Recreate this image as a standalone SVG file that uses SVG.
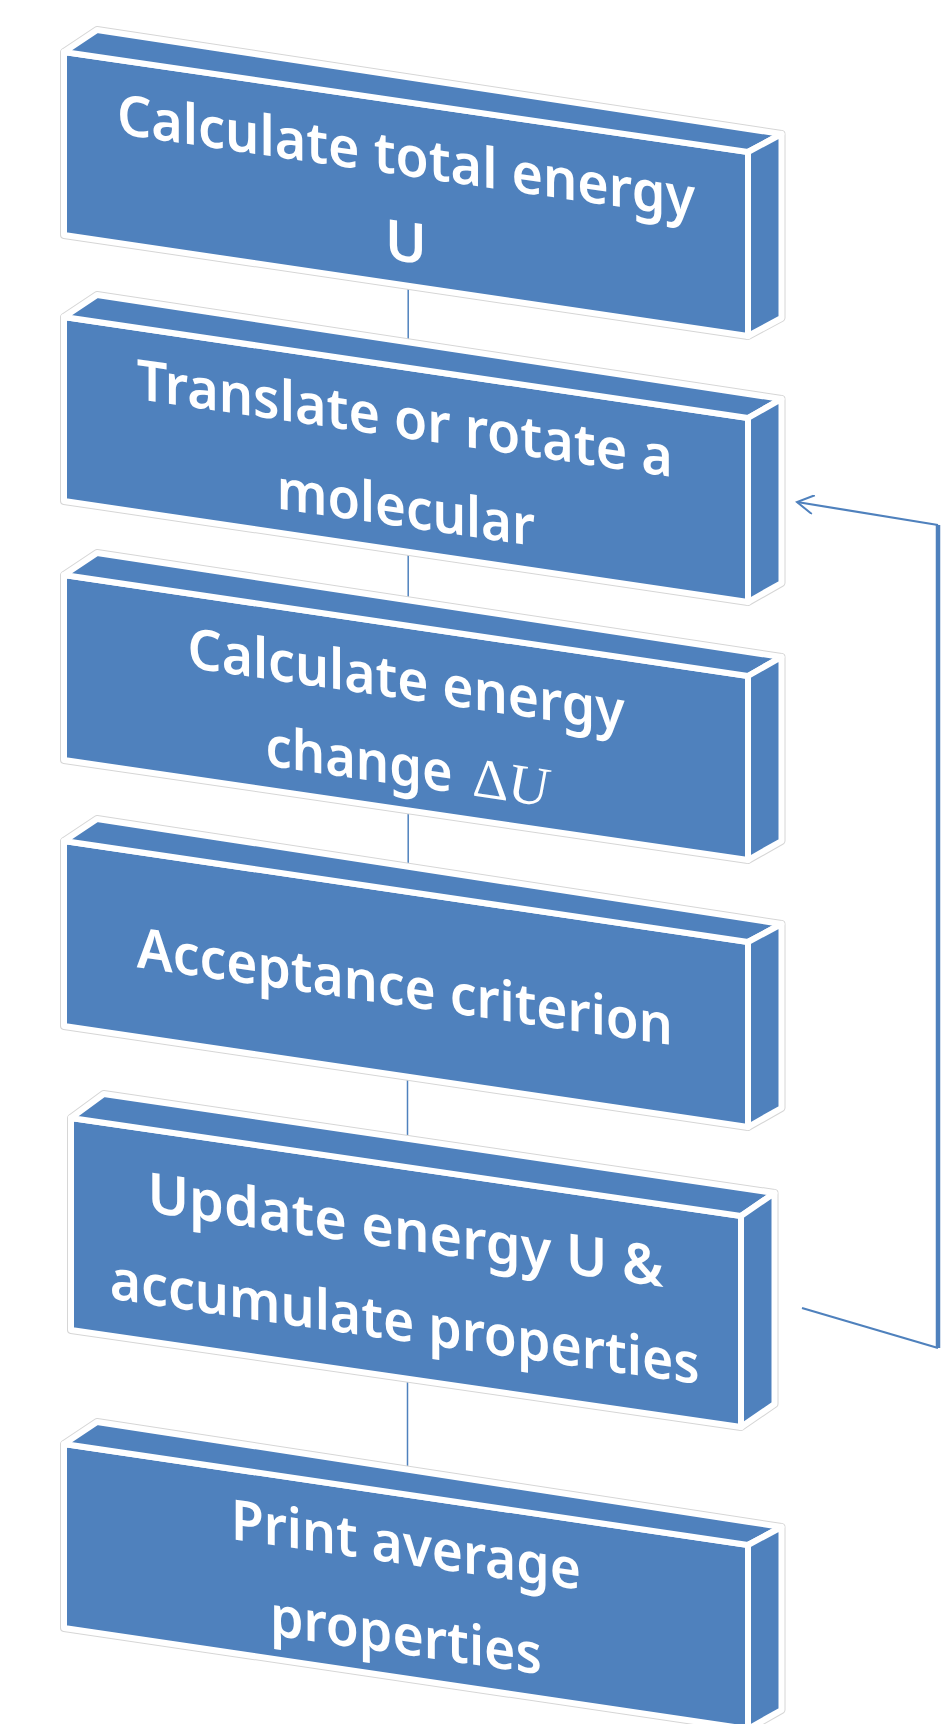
<svg xmlns="http://www.w3.org/2000/svg" width="951" height="1724" viewBox="0 0 951 1724">
<style>
.face{fill:#4F81BD;stroke:#FFFFFF;stroke-width:6;stroke-linejoin:round}
.sil{fill:#4F81BD;stroke:#D6D6D6;stroke-width:8;stroke-linejoin:round}
.lbl{fill:#FFFFFF;font-family:'Noto Sans','Open Sans',sans-serif;font-weight:600;font-size:56px;text-anchor:middle}
.math{fill:#FFFFFF;font-family:'Liberation Serif','DejaVu Serif',serif;font-size:56px;font-weight:normal}
.link{stroke:#4F81BD;stroke-width:1.5;fill:none}
.fb{stroke:#4F81BD;stroke-width:2.2;fill:none}
</style>
<defs>
<marker id="open" viewBox="0 0 20 20" refX="18" refY="10" markerWidth="20" markerHeight="20" markerUnits="userSpaceOnUse" orient="auto">
<path d="M1.5,0.5 L18,10 L1.5,19.5" fill="none" stroke="#4F81BD" stroke-width="2"/>
</marker>
</defs>
<rect width="951" height="1724" fill="#FFFFFF"/>
<g id="connectors">
<line class="link" x1="408.2" y1="278" x2="408.2" y2="350"/>
<line class="link" x1="408.2" y1="545" x2="408.2" y2="608"/>
<line class="link" x1="408.2" y1="805" x2="408.2" y2="872"/>
<line class="link" x1="407.5" y1="1070" x2="407.5" y2="1146"/>
<line class="link" x1="407.5" y1="1372" x2="407.5" y2="1476"/>
<g id="feedback">
<path class="fb" d="M802,1308 L938,1348"/>
<path d="M938,1348 L938,525" stroke="#4F81BD" stroke-width="4.5" fill="none"/>
<path class="fb" d="M938,525 L797,502" marker-end="url(#open)"/>
</g>
</g>
<g id="node1">
<path class="sil" d="M97,30 L781.5,134 L781.5,318 L748,336 L64,235 L64,52 Z"/>
<path class="face" d="M64,52 L748,152 L748,336 L64,235 Z"/>
<path class="face" d="M97,30 L781.5,134 L748,152 L64,52 Z"/>
<path class="face" d="M748,152 L781.5,134 L781.5,318 L748,336 Z"/>
<g transform="translate(405.9,175.8) skewY(8.28)">
<text class="lbl" x="0" y="0" textLength="578" lengthAdjust="spacingAndGlyphs">Calculate total energy</text>
<text class="lbl" x="0" y="86">U</text>
</g>
</g>
<g id="node2">
<path class="sil" d="M97,295 L781.5,399 L781.5,583 L748,602 L64,501 L64,317 Z"/>
<path class="face" d="M64,317 L748,418 L748,602 L64,501 Z"/>
<path class="face" d="M97,295 L781.5,399 L748,418 L64,317 Z"/>
<path class="face" d="M748,418 L781.5,399 L781.5,583 L748,602 Z"/>
<g transform="translate(404.8,438.1) skewY(8.28)">
<text class="lbl" x="0" y="0" textLength="536" lengthAdjust="spacingAndGlyphs">Translate or rotate a</text>
<text class="lbl" x="1" y="89" textLength="258" lengthAdjust="spacingAndGlyphs">molecular</text>
</g>
</g>
<g id="node3">
<path class="sil" d="M97,553 L781.5,657 L781.5,841 L748,860 L64,760 L64,575 Z"/>
<path class="face" d="M64,575 L748,676 L748,860 L64,760 Z"/>
<path class="face" d="M97,553 L781.5,657 L748,676 L64,575 Z"/>
<path class="face" d="M748,676 L781.5,657 L781.5,841 L748,860 Z"/>
<g transform="translate(406,699.3) skewY(8.28)">
<text class="lbl" x="0" y="0" textLength="437" lengthAdjust="spacingAndGlyphs">Calculate energy</text>
<text class="lbl" x="-47" y="86.5" textLength="187" lengthAdjust="spacingAndGlyphs">change</text>
<text class="math" x="66" y="86.5">Δ<tspan font-style="italic">U</tspan></text>
</g>
</g>
<g id="node4">
<path class="sil" d="M97,819 L781.5,924 L781.5,1108 L748,1127 L64,1026 L64,841 Z"/>
<path class="face" d="M64,841 L748,942 L748,1127 L64,1026 Z"/>
<path class="face" d="M97,819 L781.5,924 L748,942 L64,841 Z"/>
<path class="face" d="M748,942 L781.5,924 L781.5,1108 L748,1127 Z"/>
<g transform="translate(404.8,1006.3) skewY(8.28)">
<text class="lbl" x="0" y="0" textLength="536" lengthAdjust="spacingAndGlyphs">Acceptance criterion</text>
</g>
</g>
<g id="node5">
<path class="sil" d="M103.7,1094 L774.5,1193 L774.5,1404 L741,1427 L71,1330 L71,1118 Z"/>
<path class="face" d="M71,1118 L741,1216 L741,1427 L71,1330 Z"/>
<path class="face" d="M103.7,1094 L774.5,1193 L741,1216 L71,1118 Z"/>
<path class="face" d="M741,1216 L774.5,1193 L774.5,1404 L741,1427 Z"/>
<g transform="translate(405.4,1249.6) skewY(8.28)">
<text class="lbl" x="0" y="0" textLength="516" lengthAdjust="spacingAndGlyphs">Update energy U &amp;</text>
<text class="lbl" x="-0.7" y="92" textLength="590" lengthAdjust="spacingAndGlyphs">accumulate properties</text>
</g>
</g>
<g id="node6">
<path class="sil" d="M97,1422 L781.5,1527 L781.5,1710 L748,1729 L64,1628 L64,1444 Z"/>
<path class="face" d="M64,1444 L748,1545 L748,1729 L64,1628 Z"/>
<path class="face" d="M97,1422 L781.5,1527 L748,1545 L64,1444 Z"/>
<path class="face" d="M748,1545 L781.5,1527 L781.5,1710 L748,1729 Z"/>
<g transform="translate(405.9,1564.4) skewY(8.28)">
<text class="lbl" x="0" y="0" textLength="350" lengthAdjust="spacingAndGlyphs">Print average</text>
<text class="lbl" x="0" y="90.4" textLength="272" lengthAdjust="spacingAndGlyphs">properties</text>
</g>
</g>
</svg>
